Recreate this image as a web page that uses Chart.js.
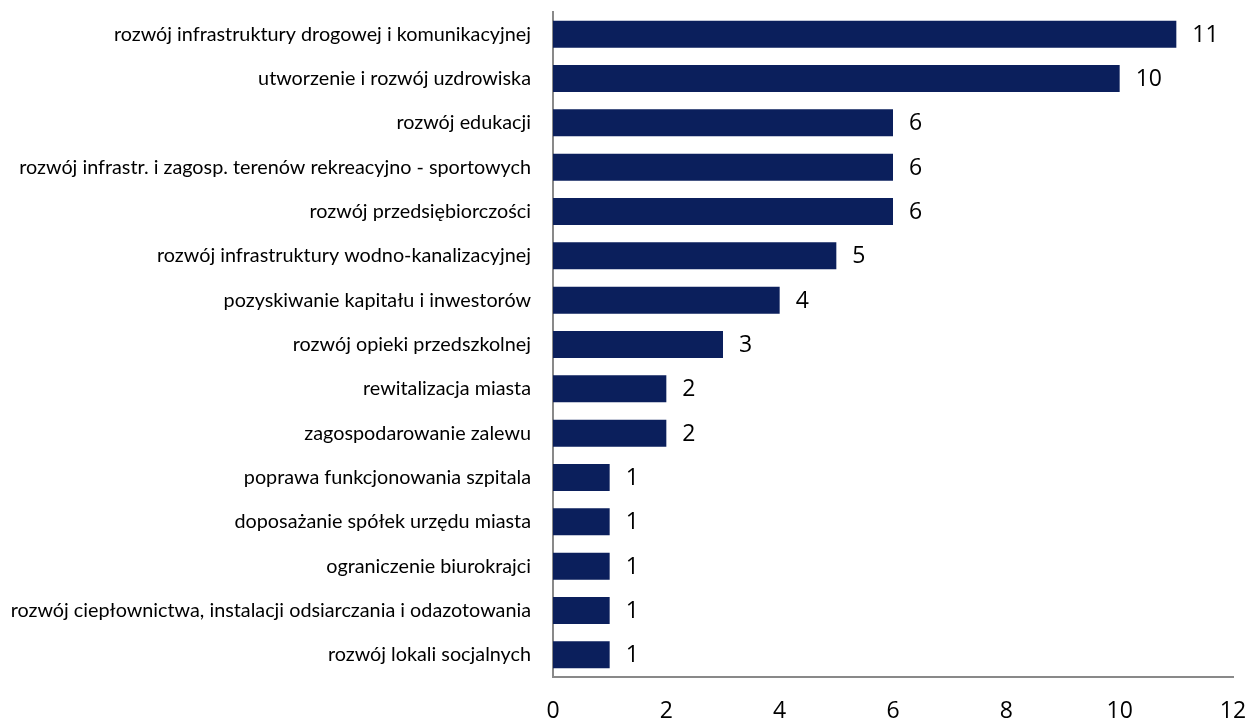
<!DOCTYPE html>
<html>
<head>
<meta charset="utf-8">
<script src="https://cdn.jsdelivr.net/npm/chart.js@4"></script>
<style>
  html, body { margin: 0; padding: 0; background: #fff; }
  #wrap { width: 1249px; height: 722px; position: relative; }
</style>
</head>
<body>
<div id="wrap"><canvas id="chart"></canvas></div>
<script>
const categories = [
  "rozwój infrastruktury drogowej i komunikacyjnej",
  "utworzenie i rozwój uzdrowiska",
  "rozwój edukacji",
  "rozwój infrastr. i zagosp. terenów rekreacyjno - sportowych",
  "rozwój przedsiębiorczości",
  "rozwój infrastruktury wodno-kanalizacyjnej",
  "pozyskiwanie kapitału i inwestorów",
  "rozwój opieki przedszkolnej",
  "rewitalizacja miasta",
  "zagospodarowanie zalewu",
  "poprawa funkcjonowania szpitala",
  "doposażanie spółek urzędu miasta",
  "ograniczenie biurokrajci",
  "rozwój ciepłownictwa, instalacji odsiarczania i odazotowania",
  "rozwój lokali socjalnych"
];
const values = [11, 10, 6, 6, 6, 5, 4, 3, 2, 2, 1, 1, 1, 1, 1];
const xTicks = [0, 2, 4, 6, 8, 10, 12];

const NUM_FONT = "'Open Sans', sans-serif";
const CAT_FONT = "Lato, sans-serif";

// value labels next to bar ends
const valueLabels = {
  id: "valueLabels",
  afterDatasetsDraw(chart) {
    const ctx = chart.ctx;
    const meta = chart.getDatasetMeta(0);
    ctx.save();
    ctx.font = "23px " + NUM_FONT;
    ctx.fillStyle = "#000";
    ctx.textAlign = "left";
    ctx.textBaseline = "middle";
    meta.data.forEach((bar, i) => {
      ctx.fillText(String(values[i]), bar.x + 16, bar.y + 1);
    });
    ctx.restore();
  }
};

new Chart(document.getElementById("chart"), {
  type: "bar",
  data: {
    labels: categories,
    datasets: [{
      data: values,
      backgroundColor: "#0b1f5c",
      barPercentage: 0.61,
      categoryPercentage: 1.0
    }]
  },
  options: {
    indexAxis: "y",
    responsive: true,
    maintainAspectRatio: false,
    animation: false,
    layout: { padding: { top: 12, right: 0, bottom: 0, left: 0 } },
    plugins: { legend: { display: false }, tooltip: { enabled: false } },
    scales: {
      x: {
        min: 0,
        max: 12,
        afterBuildTicks(axis) { axis.ticks = xTicks.map(v => ({ value: v })); },
        afterFit(axis) {
          axis.height = 45;
          axis.paddingLeft = 0;
          axis.paddingRight = 16;
        },
        grid: { display: false, drawTicks: false },
        border: { display: true, color: "#898989", width: 2 },
        ticks: { color: "#000", font: { family: NUM_FONT, size: 23 }, padding: 21 }
      },
      y: {
        afterFit(axis) {
          axis.width = 553;
          axis.paddingTop = 0;
          axis.paddingBottom = 0;
        },
        grid: { display: false, drawTicks: false },
        border: { display: true, color: "#898989", width: 2 },
        ticks: { color: "#000", font: { family: CAT_FONT, size: 19.8 }, padding: 22 }
      }
    }
  },
  plugins: [valueLabels]
});
</script>
</body>
</html>
